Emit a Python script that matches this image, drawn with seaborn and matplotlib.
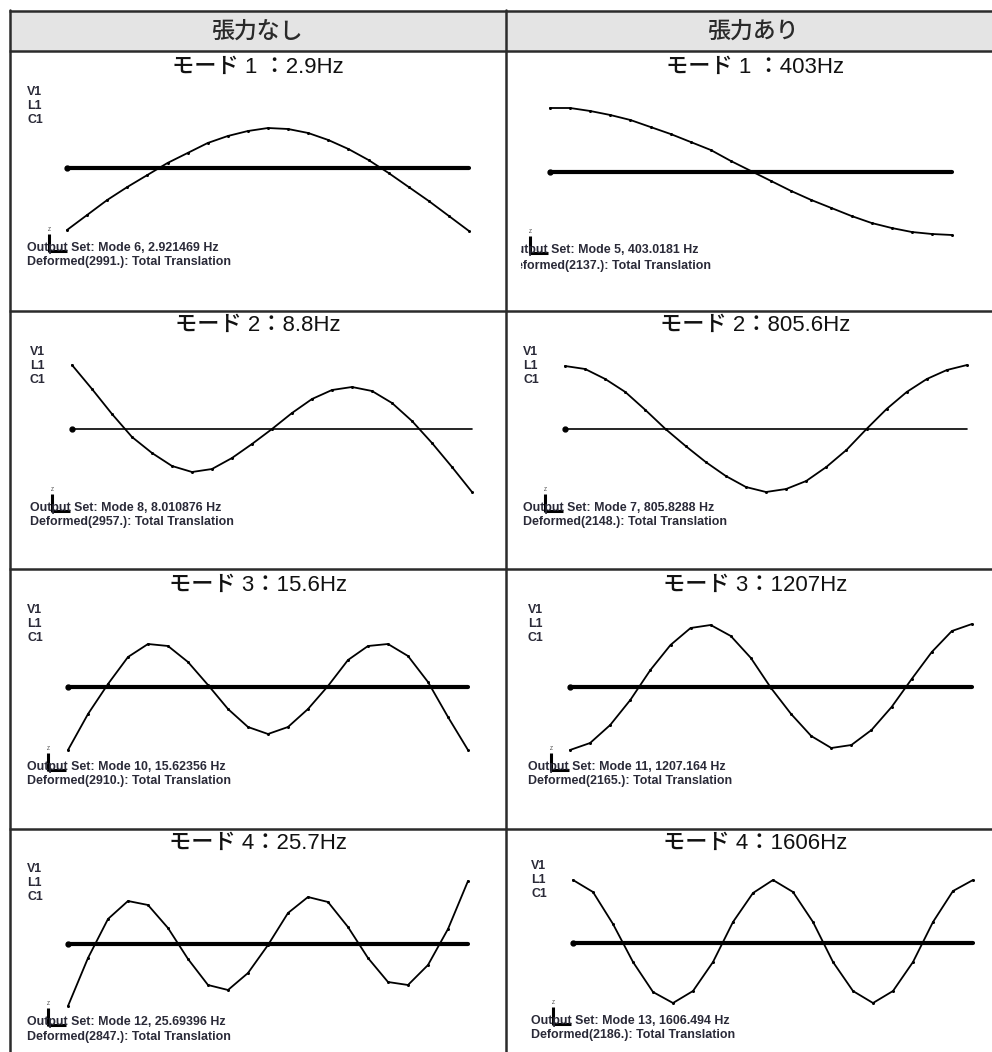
import matplotlib
matplotlib.use('Agg')
import matplotlib.pyplot as plt
import seaborn as sns
from matplotlib.patches import Rectangle

sns.set_theme(style='white')
plt.rcParams['font.family'] = ['Noto Sans CJK JP', 'DejaVu Sans']

# ---------------- data ----------------
column_headers = ['張力なし', '張力あり']
mode_titles = [
    ['モード 1 ：2.9Hz', 'モード 1 ：403Hz'],
    ['モード 2：8.8Hz', 'モード 2：805.6Hz'],
    ['モード 3：15.6Hz', 'モード 3：1207Hz'],
    ['モード 4：25.7Hz', 'モード 4：1606Hz'],
]
output_sets = [
    ['Output Set: Mode 6, 2.921469 Hz', 'Output Set: Mode 5, 403.0181 Hz'],
    ['Output Set: Mode 8, 8.010876 Hz', 'Output Set: Mode 7, 805.8288 Hz'],
    ['Output Set: Mode 10, 15.62356 Hz', 'Output Set: Mode 11, 1207.164 Hz'],
    ['Output Set: Mode 12, 25.69396 Hz', 'Output Set: Mode 13, 1606.494 Hz'],
]
deformed_labels = [
    ['Deformed(2991.): Total Translation', 'Deformed(2137.): Total Translation'],
    ['Deformed(2957.): Total Translation', 'Deformed(2148.): Total Translation'],
    ['Deformed(2910.): Total Translation', 'Deformed(2165.): Total Translation'],
    ['Deformed(2847.): Total Translation', 'Deformed(2186.): Total Translation'],
]
view_labels = ['V1', 'L1', 'C1']

nodes = list(range(21))

disp_L1 = [-62, -47, -32, -19, -7, 5, 15, 25, 32, 37, 40, 39, 35, 28, 19, 8, -5, -19, -33, -48, -63]
disp_R1 = [64, 64, 61, 57, 52, 45, 38, 30, 22, 11, 1, -9, -19, -28, -36, -44, -51, -56, -60, -62, -63]
disp_L2 = [64, 40, 15, -8, -24, -37, -43, -40, -29, -15, 0, 16, 30, 39, 42, 38, 26, 8, -14, -38, -63]
disp_R2 = [63, 60, 50, 37, 19, 0, -17, -33, -47, -58, -63, -60, -52, -38, -21, 0, 20, 37, 50, 59, 64]
disp_L3 = [-63, -27, 3, 30, 43, 41, 25, 2, -22, -40, -47, -40, -22, 1, 27, 41, 43, 31, 5, -30, -63]
disp_R3 = [-63, -56, -38, -13, 17, 42, 59, 62, 51, 29, -1, -27, -49, -61, -58, -43, -20, 8, 35, 56, 63]
disp_L4 = [-62, -14, 25, 43, 39, 16, -15, -41, -46, -29, -1, 31, 47, 42, 17, -14, -38, -41, -21, 15, 63]
disp_R4 = [63, 51, 19, -19, -49, -60, -48, -19, 21, 50, 63, 51, 21, -19, -48, -60, -48, -19, 21, 52, 63]

displacements = [
    [disp_L1, disp_R1],
    [disp_L2, disp_R2],
    [disp_L3, disp_R3],
    [disp_L4, disp_R4],
]

# ---------------- layout (pixels) ----------------
W, H = 992, 1052
fig = plt.figure(figsize=(W / 100, H / 100), dpi=100)
bg = fig.add_axes([0, 0, 1, 1])
bg.set_xlim(0, W)
bg.set_ylim(H, 0)
bg.axis('off')

line_col = '#2b2b2b'
text_col = '#2a2a38'
title_family = ['Liberation Sans', 'Noto Sans CJK JP', 'DejaVu Sans']

# header
bg.add_patch(Rectangle((10, 11), W - 10, 40, facecolor='#e4e4e4', edgecolor='none', zorder=0))
row_lines = [11, 51, 311, 569, 829]
for yv in row_lines:
    bg.plot([9, W], [yv, yv], color=line_col, lw=1.8, solid_capstyle='butt')
bg.plot([10, 10], [10, H], color=line_col, lw=1.8)
bg.plot([506, 506], [10, H], color=line_col, lw=1.8)

header_x = [257, 753]
for hx, htxt in zip(header_x, column_headers):
    bg.text(hx, 31, htxt, ha='center', va='center', fontsize=16.5, color='#2a2a2a',
            fontweight='medium')

title_x = [258, 755]
title_y = [67, 325, 585, 843]

# plot area per panel: (x_start, x_end, zero_y)
plot_area = [
    [(67, 469, 168), (550, 952, 172)],
    [(72, 472, 429), (565, 967, 429)],
    [(68, 468, 687), (570, 972, 687)],
    [(68, 468, 944), (573, 973, 943)],
]
zero_lw = [[3.0, 3.0], [1.2, 1.2], [3.0, 3.0], [3.0, 3.0]]
label_pos = [  # (x, first label y) or None
    [(27, 92), None],
    [(30, 352), (523, 352)],
    [(27, 610), (528, 610)],
    [(27, 869), (531, 866)],
]
info_pos = [  # (x, y line1, y line2, icon x)
    [(27, 248, 262, 49), (507, 250, 266, 530)],
    [(30, 508, 522, 52), (523, 508, 522, 545)],
    [(27, 767, 781, 48), (528, 767, 781, 551)],
    [(27, 1022, 1037, 48), (531, 1021, 1035, 553)],
]
clip_left = [[None, 521], [None, None], [None, None], [None, None]]

small_font = dict(family=['Liberation Sans', 'DejaVu Sans'], fontsize=8.9,
                  fontweight='bold', color=text_col)

for r in range(4):
    for c in range(2):
        # title
        bg.text(title_x[c], title_y[r], mode_titles[r][c], ha='center', va='center',
                fontsize=16, color='#111111', family=title_family, fontweight='medium')
        # mode shape axes
        x0, x1, yz = plot_area[r][c]
        half = 70
        ax = fig.add_axes([x0 / W, 1 - (yz + half) / H, (x1 - x0) / W, 2 * half / H])
        ax.set_xlim(nodes[0], nodes[-1])
        ax.set_ylim(-half, half)
        ax.axis('off')
        ax.patch.set_alpha(0)
        zeros = [0] * len(nodes)
        sns.lineplot(x=nodes, y=zeros, ax=ax, color='black', linewidth=zero_lw[r][c],
                     errorbar=None, clip_on=False)
        ax.plot(nodes[:1], zeros[:1], 'o', color='black', ms=3.5, clip_on=False)
        sns.lineplot(x=nodes, y=displacements[r][c], ax=ax, color='black', linewidth=1.3,
                     marker='o', markersize=2.2, markeredgewidth=0, errorbar=None, clip_on=False)
        # V1 L1 C1
        lp = label_pos[r][c]
        if lp is not None:
            for i, lab in enumerate(view_labels):
                bg.text(lp[0], lp[1] + 14 * i, lab, ha='left', va='center', **small_font)
        # info text
        tx, ty1, ty2, ix = info_pos[r][c]
        t1 = bg.text(tx, ty1, output_sets[r][c], ha='left', va='center', **small_font)
        t2 = bg.text(tx, ty2, deformed_labels[r][c], ha='left', va='center', **small_font)
        cl = clip_left[r][c]
        if cl is not None:
            clip_rect = Rectangle((cl, 0), W - cl, H, transform=bg.transData)
            for t in (t1, t2):
                t.set_clip_on(True)
                t.set_clip_path(clip_rect)
        # axis triad icon
        bg.plot([ix, ix], [ty1 - 14, ty1 + 4], color='black', lw=2.2, solid_capstyle='butt')
        bg.plot([ix, ix + 18], [ty1 + 3, ty1 + 3], color='black', lw=2.2, solid_capstyle='butt')
        bg.text(ix, ty1 - 16, 'Z', fontsize=3.5, ha='center', va='bottom', color='#333333',
                family=['Liberation Sans', 'DejaVu Sans'])

fig.savefig('out.png', dpi=100)
